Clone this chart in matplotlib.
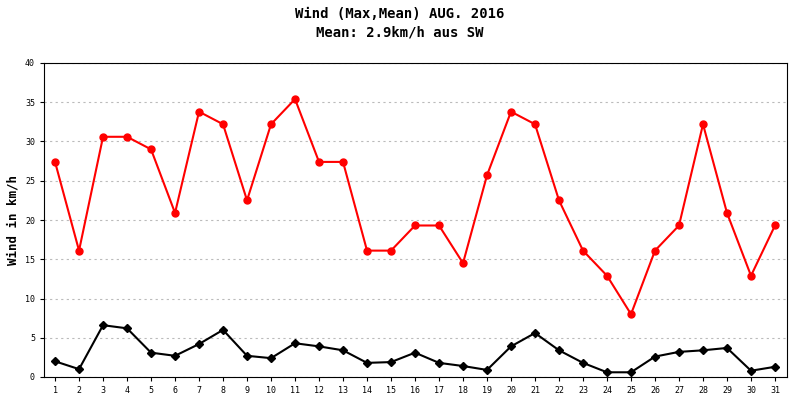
import matplotlib
matplotlib.use("Agg")
import matplotlib.pyplot as plt

days = list(range(1, 32))
wind_max = [27.4,16.1,30.6,30.6,29.0,20.9,33.8,32.2,22.5,32.2,35.4,27.4,27.4,16.1,16.1,19.3,
            19.3,14.5,25.7,33.8,32.2,22.5,16.1,12.9,8.0,16.1,19.3,32.2,20.9,12.9,19.3]
wind_mean = [2.0,1.0,6.6,6.2,3.1,2.7,4.2,6.0,2.7,2.4,4.3,3.9,3.4,1.8,1.9,3.1,1.8,1.4,0.9,3.9,
             5.6,3.4,1.8,0.6,0.6,2.6,3.2,3.4,3.7,0.8,1.3]
yticks = [0,5,10,15,20,25,30,35,40]

plt.rcParams['font.family'] = ['DejaVu Sans Mono']
fig = plt.figure(figsize=(8, 4), dpi=100)
ax = fig.add_axes([44/800, 1-377/400, (787-44)/800, (377-63)/400])
ax.plot(days, wind_max, color='#ff0000', marker='o', markersize=5, linewidth=1.5)
ax.plot(days, wind_mean, color='black', marker='D', markersize=4, linewidth=1.5)
ax.set_xlim(0.54, 31.5)
ax.set_ylim(0, 40)
ax.set_xticks(days)
ax.set_yticks(yticks)
ax.tick_params(labelsize=6, length=3)
ax.grid(axis='y', linestyle=(0, (2, 3)), color='#bbbbbb', linewidth=0.8)
ax.set_ylabel('Wind in km/h', fontsize=9, fontweight='bold')
fig.text(0.5, 0.965, 'Wind (Max,Mean) AUG. 2016', ha='center', va='center', fontsize=10, fontweight='bold')
fig.text(0.5, 0.92, 'Mean: 2.9km/h aus SW', ha='center', va='center', fontsize=10, fontweight='bold')
fig.savefig('out.png', dpi=100)
